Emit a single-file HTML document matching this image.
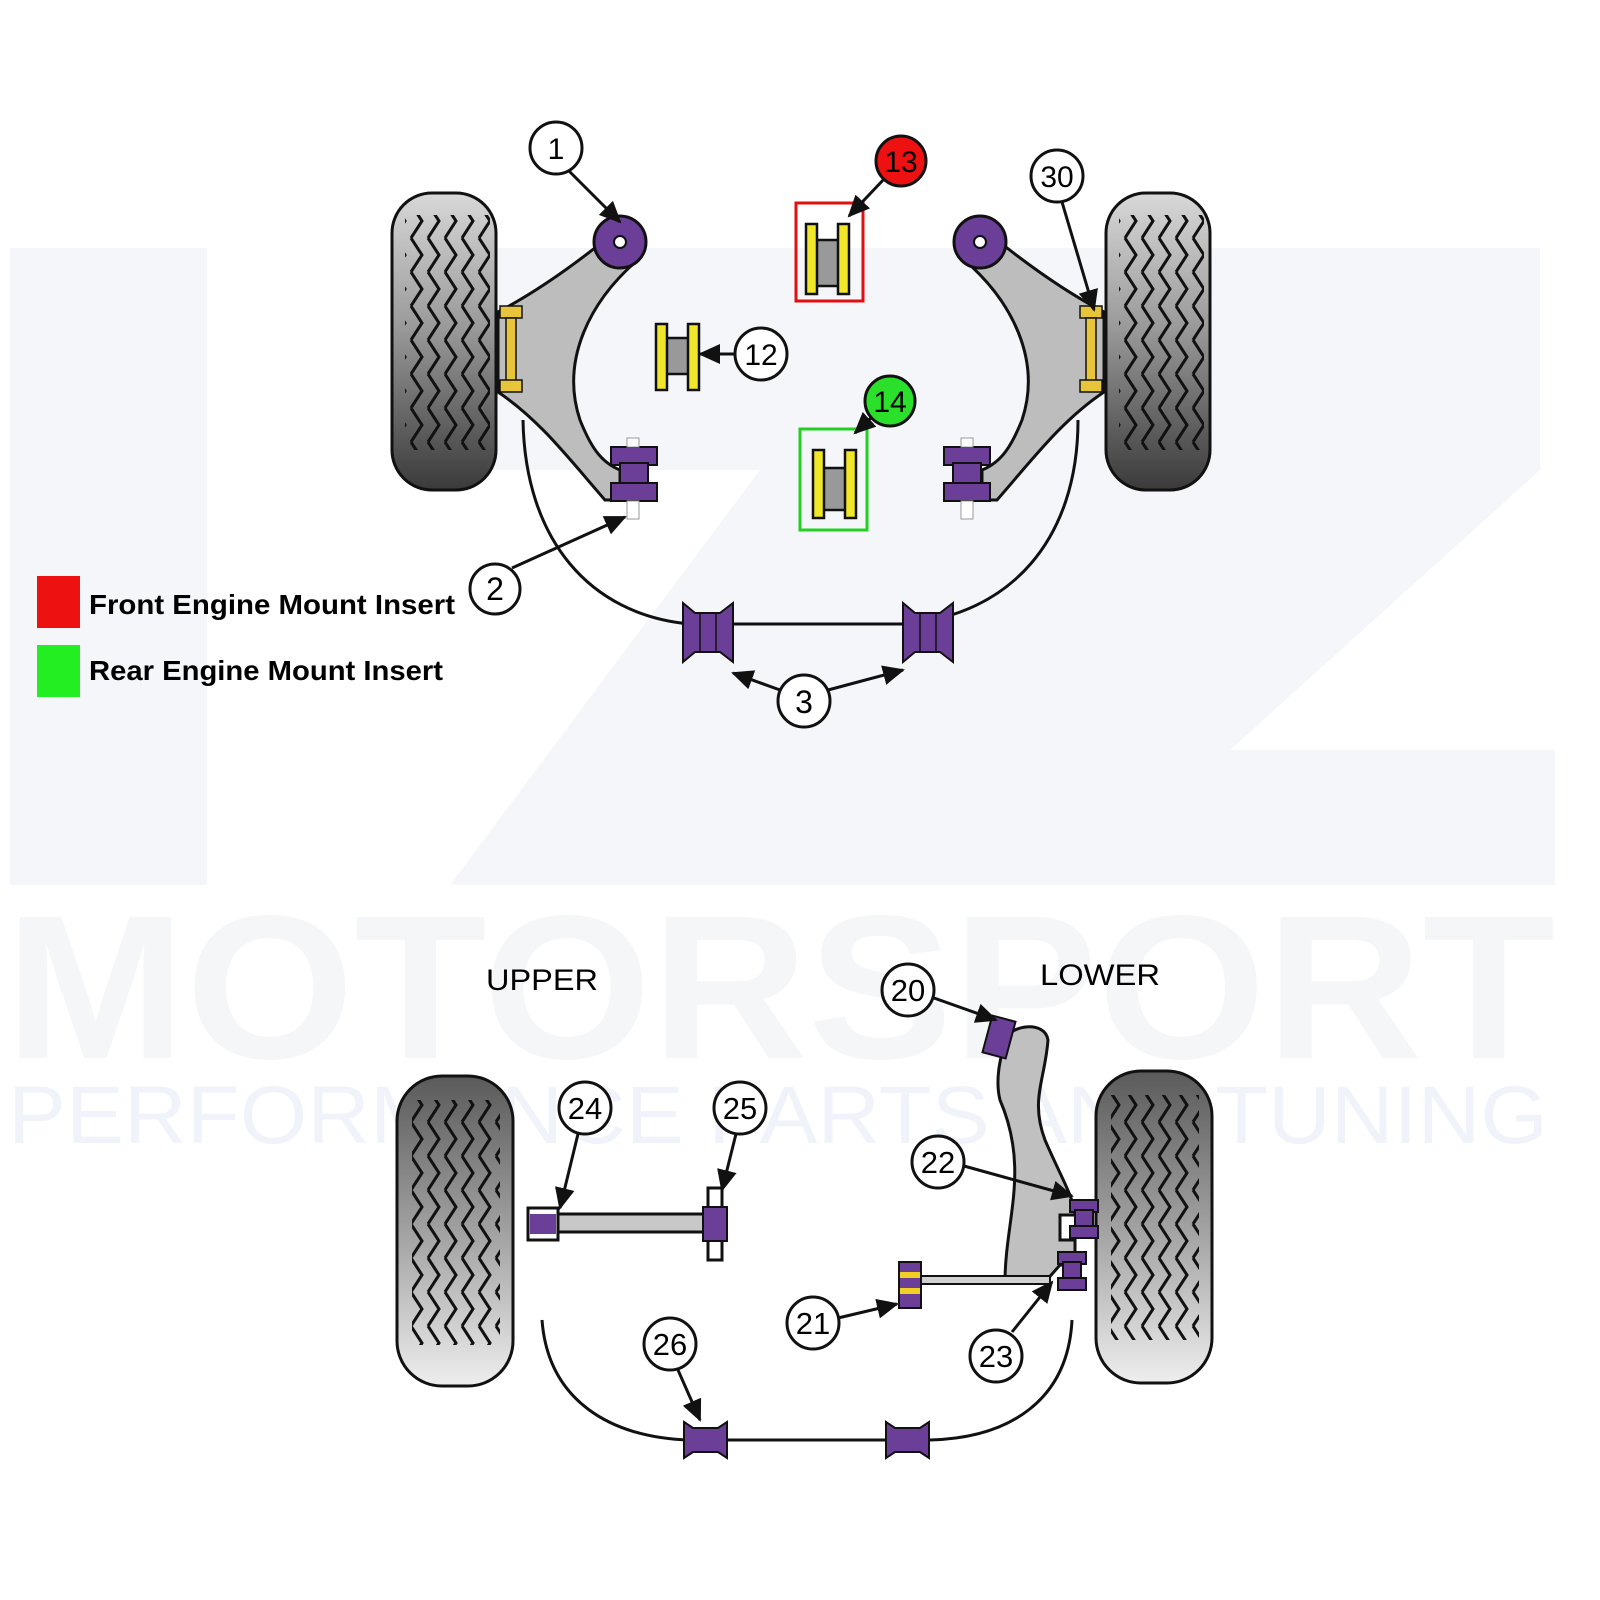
<!DOCTYPE html>
<html><head><meta charset="utf-8"><style>
html,body{margin:0;padding:0;background:#fff;}
svg{display:block;}
text{font-family:"Liberation Sans",sans-serif;}
</style></head><body>
<svg width="1600" height="1600" viewBox="0 0 1600 1600" xmlns="http://www.w3.org/2000/svg">
<defs>
<linearGradient id="tireTop" x1="0" y1="0" x2="0" y2="1">
<stop offset="0" stop-color="#d8d8d8"/><stop offset="0.45" stop-color="#9a9a9a"/><stop offset="1" stop-color="#3a3a3a"/></linearGradient>
<linearGradient id="tireBot" x1="0" y1="0" x2="0" y2="1">
<stop offset="0" stop-color="#5a5a5a"/><stop offset="0.55" stop-color="#a8a8a8"/><stop offset="1" stop-color="#eeeeee"/></linearGradient>
<pattern id="zz" x="0" y="0" width="17" height="34" patternUnits="userSpaceOnUse">
<path d="M3,0 L14,17 L3,34" fill="none" stroke="#111" stroke-width="3"/></pattern>
<marker id="ah2" markerWidth="22" markerHeight="20" refX="20" refY="10" orient="auto" markerUnits="userSpaceOnUse" viewBox="0 0 22 20">
<path d="M0,0 L22,10 L0,20 z" fill="#111"/></marker>
</defs>

<!-- watermark -->
<g fill="#f4f6fa">
<rect x="10" y="248" width="197" height="637"/>
<polygon points="400,248 1540,248 1540,470 1230,750 1555,750 1555,885 450,885 760,470 400,470"/>
</g>
<text x="5" y="1058" font-size="205" font-weight="bold" fill="#f5f6f8" textLength="1550" lengthAdjust="spacingAndGlyphs">MOTORSPORT</text>
<text x="8" y="1143" font-size="82" fill="#f0f4fa" textLength="1540" lengthAdjust="spacingAndGlyphs">PERFORMANCE PARTS AND TUNING</text>

<!-- ===== TOP ===== -->
<rect x="392" y="193" width="104" height="297" rx="40" fill="url(#tireTop)" stroke="#111" stroke-width="3"/>
<rect x="405" y="215" width="85" height="235" fill="url(#zz)"/>
<rect x="1106" y="193" width="104" height="297" rx="40" fill="url(#tireTop)" stroke="#111" stroke-width="3"/>
<rect x="1119" y="215" width="85" height="235" fill="url(#zz)"/>

<path d="M498,312 C540,290 580,260 605,240 L640,258 C590,300 560,360 580,420 C590,445 600,462 620,470 L620,500 L605,500 C570,460 540,420 498,392 Z" fill="#bdbdbd" stroke="#111" stroke-width="3"/>
<circle cx="620" cy="242" r="26" fill="#6b3f98" stroke="#111" stroke-width="3"/>
<circle cx="620" cy="242" r="6" fill="#fff" stroke="#111" stroke-width="2"/>
<rect x="500" y="306" width="22" height="12" fill="#e8c43a" stroke="#111" stroke-width="1.5"/>
<rect x="506" y="318" width="10" height="64" fill="#e8c43a" stroke="#111" stroke-width="1.5"/>
<rect x="500" y="380" width="22" height="12" fill="#e8c43a" stroke="#111" stroke-width="1.5"/>
<rect x="611" y="447" width="46" height="18" fill="#6b3f98" stroke="#111" stroke-width="2"/>
<rect x="620" y="463" width="28" height="22" fill="#6b3f98" stroke="#111" stroke-width="2"/>
<rect x="611" y="483" width="46" height="18" fill="#6b3f98" stroke="#111" stroke-width="2"/>
<rect x="627" y="438" width="12" height="9" fill="#fff" stroke="#999"/><rect x="627" y="501" width="12" height="18" fill="#fff" stroke="#999"/>

<path d="M1104,312 C1062,290 1022,260 997,240 L962,258 C1012,300 1042,360 1022,420 C1012,445 1002,462 982,470 L982,500 L997,500 C1032,460 1062,420 1104,392 Z" fill="#bdbdbd" stroke="#111" stroke-width="3"/>
<circle cx="980" cy="242" r="26" fill="#6b3f98" stroke="#111" stroke-width="3"/>
<circle cx="980" cy="242" r="6" fill="#fff" stroke="#111" stroke-width="2"/>
<rect x="1080" y="306" width="22" height="12" fill="#e8c43a" stroke="#111" stroke-width="1.5"/>
<rect x="1086" y="318" width="10" height="64" fill="#e8c43a" stroke="#111" stroke-width="1.5"/>
<rect x="1080" y="380" width="22" height="12" fill="#e8c43a" stroke="#111" stroke-width="1.5"/>
<rect x="944" y="447" width="46" height="18" fill="#6b3f98" stroke="#111" stroke-width="2"/>
<rect x="953" y="463" width="28" height="22" fill="#6b3f98" stroke="#111" stroke-width="2"/>
<rect x="944" y="483" width="46" height="18" fill="#6b3f98" stroke="#111" stroke-width="2"/>
<rect x="961" y="438" width="12" height="9" fill="#fff" stroke="#999"/><rect x="961" y="501" width="12" height="18" fill="#fff" stroke="#999"/>

<g stroke="#111" stroke-width="2.5">
<rect x="815" y="240" width="25" height="46" fill="#999"/>
<rect x="806" y="224" width="11" height="70" fill="#f0e62a"/><rect x="838" y="224" width="11" height="70" fill="#f0e62a"/>
<rect x="665" y="338" width="25" height="36" fill="#999"/>
<rect x="656" y="324" width="11" height="66" fill="#f0e62a"/><rect x="688" y="324" width="11" height="66" fill="#f0e62a"/>
<rect x="822" y="468" width="25" height="42" fill="#999"/>
<rect x="813" y="450" width="11" height="68" fill="#f0e62a"/><rect x="845" y="450" width="11" height="68" fill="#f0e62a"/>
</g>
<rect x="796" y="203" width="67" height="98" fill="none" stroke="#e01010" stroke-width="3"/>
<rect x="800" y="429" width="67" height="101" fill="none" stroke="#22d022" stroke-width="3"/>

<path d="M523,420 C525,540 590,615 690,624 L905,624 C1010,615 1078,540 1078,420" fill="none" stroke="#111" stroke-width="3"/>
<g fill="#6b3f98" stroke="#111" stroke-width="2">
<path d="M683,603 L695,613 L720,613 L733,603 L733,662 L720,652 L695,652 L683,662 Z"/>
<path d="M903,603 L915,613 L940,613 L953,603 L953,662 L940,652 L915,652 L903,662 Z"/>
</g>
<g stroke="#111" stroke-width="1.5"><line x1="700" y1="613" x2="700" y2="652"/><line x1="716" y1="613" x2="716" y2="652"/><line x1="920" y1="613" x2="920" y2="652"/><line x1="936" y1="613" x2="936" y2="652"/></g>

<g stroke="#111" stroke-width="3" fill="none" marker-end="url(#ah2)">
<line x1="569" y1="171" x2="620" y2="222"/>
<line x1="885" y1="178" x2="849" y2="216"/>
<line x1="1062" y1="202" x2="1094" y2="310"/>
<line x1="736" y1="354" x2="700" y2="354"/>
<line x1="872" y1="417" x2="855" y2="433"/>
<line x1="512" y1="568" x2="625" y2="517"/>
<line x1="780" y1="690" x2="733" y2="673"/>
<line x1="828" y1="690" x2="903" y2="670"/>
</g>
<g font-size="30" text-anchor="middle">
<circle cx="556" cy="148" r="26" fill="#fff" stroke="#111" stroke-width="3"/><text x="556" y="159">1</text>
<circle cx="901" cy="161" r="25" fill="#ee1111" stroke="#111" stroke-width="3"/><text x="901" y="172">13</text>
<circle cx="1057" cy="176" r="26" fill="#fff" stroke="#111" stroke-width="3"/><text x="1057" y="187">30</text>
<circle cx="761" cy="354" r="26" fill="#fff" stroke="#111" stroke-width="3"/><text x="761" y="365">12</text>
<circle cx="890" cy="401" r="25" fill="#2ae02a" stroke="#111" stroke-width="3"/><text x="890" y="412">14</text>
<circle cx="495" cy="589" r="25" fill="#fff" stroke="#111" stroke-width="3"/><text x="495" y="600" font-size="32">2</text>
<circle cx="804" cy="701" r="26" fill="#fff" stroke="#111" stroke-width="3"/><text x="804" y="713" font-size="32">3</text>
</g>

<rect x="37" y="576" width="43" height="52" fill="#ee1111"/>
<rect x="37" y="645" width="43" height="52" fill="#22ee22"/>
<text x="89" y="614" font-size="28" font-weight="bold" textLength="366" lengthAdjust="spacingAndGlyphs">Front Engine Mount Insert</text>
<text x="89" y="680" font-size="28" font-weight="bold" textLength="354" lengthAdjust="spacingAndGlyphs">Rear Engine Mount Insert</text>

<!-- ===== BOTTOM ===== -->
<text x="486" y="990" font-size="30" textLength="112" lengthAdjust="spacingAndGlyphs">UPPER</text>
<text x="1040" y="985" font-size="30" textLength="120" lengthAdjust="spacingAndGlyphs">LOWER</text>

<rect x="397" y="1076" width="116" height="310" rx="45" fill="url(#tireBot)" stroke="#111" stroke-width="3"/>
<rect x="412" y="1100" width="88" height="245" fill="url(#zz)"/>
<rect x="1096" y="1071" width="116" height="312" rx="45" fill="url(#tireBot)" stroke="#111" stroke-width="3"/>
<rect x="1111" y="1095" width="88" height="245" fill="url(#zz)"/>

<rect x="555" y="1214" width="160" height="18" fill="#c8c8c8" stroke="#111" stroke-width="3"/>
<rect x="528" y="1208" width="30" height="32" fill="#fff" stroke="#111" stroke-width="3"/>
<rect x="530" y="1214" width="26" height="20" fill="#6b3f98"/>
<rect x="708" y="1188" width="14" height="72" fill="#fff" stroke="#111" stroke-width="3"/>
<rect x="703" y="1207" width="24" height="34" fill="#6b3f98" stroke="#111" stroke-width="2"/>

<path d="M1005,1040 C1010,1025 1045,1020 1048,1040 C1045,1080 1030,1100 1045,1140 C1060,1175 1075,1200 1075,1215 L1060,1215 L1060,1240 L1075,1240 L1075,1265 L1060,1265 L1045,1282 L1005,1282 C1005,1220 1030,1170 1000,1100 C995,1080 1000,1060 1005,1040 Z" fill="#c0c0c0" stroke="#111" stroke-width="3"/>
<rect x="900" y="1276" width="150" height="8" fill="#d0d0d0" stroke="#111" stroke-width="2"/>
<g fill="#6b3f98" stroke="#111" stroke-width="2">
<rect x="899" y="1262" width="22" height="46"/>
<rect x="987" y="1018" width="24" height="38" transform="rotate(15 999 1037)"/>
<rect x="1070" y="1200" width="28" height="12"/><rect x="1075" y="1210" width="18" height="18"/><rect x="1070" y="1226" width="28" height="12"/>
<rect x="1058" y="1252" width="28" height="12"/><rect x="1063" y="1262" width="18" height="18"/><rect x="1058" y="1278" width="28" height="12"/>
</g>
<rect x="900" y="1272" width="20" height="6" fill="#f0d020"/><rect x="900" y="1288" width="20" height="6" fill="#f0d020"/>

<path d="M542,1320 C548,1400 610,1438 690,1440 L930,1440 C1010,1438 1068,1400 1072,1320" fill="none" stroke="#111" stroke-width="3"/>
<g fill="#6b3f98" stroke="#111" stroke-width="2">
<path d="M684,1422 L693,1428 L718,1428 L727,1422 L727,1458 L718,1452 L693,1452 L684,1458 Z"/>
<path d="M886,1422 L895,1428 L920,1428 L929,1422 L929,1458 L920,1452 L895,1452 L886,1458 Z"/>
</g>

<g stroke="#111" stroke-width="3" fill="none" marker-end="url(#ah2)">
<line x1="578" y1="1134" x2="560" y2="1208"/>
<line x1="736" y1="1134" x2="722" y2="1190"/>
<line x1="934" y1="998" x2="996" y2="1020"/>
<line x1="964" y1="1166" x2="1072" y2="1196"/>
<line x1="838" y1="1318" x2="897" y2="1304"/>
<line x1="1012" y1="1332" x2="1052" y2="1282"/>
<line x1="678" y1="1370" x2="700" y2="1420"/>
</g>
<g font-size="31" text-anchor="middle">
<circle cx="908" cy="990" r="26" fill="#fff" stroke="#111" stroke-width="3"/><text x="908" y="1001">20</text>
<circle cx="585" cy="1108" r="26" fill="#fff" stroke="#111" stroke-width="3"/><text x="585" y="1119">24</text>
<circle cx="740" cy="1108" r="26" fill="#fff" stroke="#111" stroke-width="3"/><text x="740" y="1119">25</text>
<circle cx="938" cy="1162" r="26" fill="#fff" stroke="#111" stroke-width="3"/><text x="938" y="1173">22</text>
<circle cx="813" cy="1323" r="26" fill="#fff" stroke="#111" stroke-width="3"/><text x="813" y="1334">21</text>
<circle cx="996" cy="1356" r="26" fill="#fff" stroke="#111" stroke-width="3"/><text x="996" y="1367">23</text>
<circle cx="670" cy="1344" r="26" fill="#fff" stroke="#111" stroke-width="3"/><text x="670" y="1355">26</text>
</g>
</svg>
</body></html>
